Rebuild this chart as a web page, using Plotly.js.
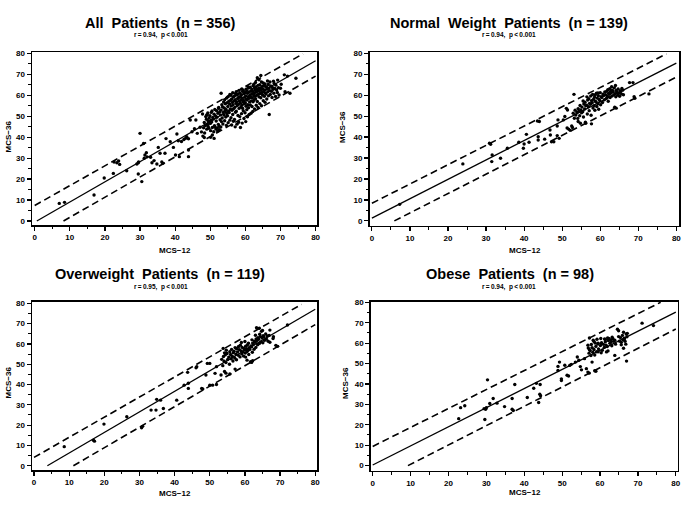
<!DOCTYPE html>
<html>
<head>
<meta charset="utf-8">
<script src="https://cdn.plot.ly/plotly-3.0.1.min.js"></script>
<style>html,body{margin:0;padding:0;background:#fff;}#chart{width:685px;height:529px;}</style>
</head>
<body>
<div id="chart"></div>
<script>
// ---------- data (MCS-12 , MCS-36) ----------
const panelTitles = ["All\u00a0\u00a0Patients\u00a0\u00a0(n\u00a0=\u00a0356)", "Normal\u00a0\u00a0Weight\u00a0\u00a0Patients\u00a0\u00a0(n\u00a0=\u00a0139)", "Overweight\u00a0\u00a0Patients\u00a0\u00a0(n\u00a0=\u00a0119)", "Obese\u00a0\u00a0Patients\u00a0\u00a0(n\u00a0=\u00a098)"];
const panelStats = ["r\u2009=\u20090.94,\u00a0\u00a0p\u2009<\u20090.001", "r\u2009=\u20090.94,\u00a0\u00a0p\u2009<\u20090.001", "r\u2009=\u20090.95,\u00a0\u00a0p\u2009<\u20090.001", "r\u2009=\u20090.94,\u00a0\u00a0p\u2009<\u20090.001"];
const xLabel = "MCS\u221212";
const yLabel = "MCS\u221236";

const allPts = [
[7.0,8.4],[8.5,8.9],[16.9,12.4],[19.8,20.5],[22.4,22.7],[22.6,28.1],[23.4,27.8],[23.9,28.6],[24.2,27.0],[26.2,24.0],
[29.1,27.2],[29.5,27.8],[29.6,28.2],[30.0,41.8],[29.5,22.4],[30.5,18.8],[31.0,37.0],[31.4,31.5],[31.2,29.9],[31.8,32.6],
[32.0,30.6],[33.0,30.4],[33.4,27.8],[34.0,28.8],[34.8,27.2],[35.2,35.1],[35.7,32.3],[36.5,27.5],[36.2,28.2],[37.1,32.3],
[37.4,39.3],[38.6,37.8],[39.5,35.1],[40.1,31.5],[40.5,41.5],[40.9,38.3],[41.2,30.7],[41.8,37.9],[42.5,38.9],[43.0,39.5],
[43.3,40.2],[43.8,39.2],[43.8,33.9],[43.8,30.7],[44.3,48.2],[44.8,42.6],[45.5,44.0],[45.9,48.2],[46.3,41.8],[47.1,44.7],
[47.5,42.5],[47.9,40.5],[48.3,39.8],[49.0,50.6],[49.4,47.8],[50.0,46.6],[50.1,39.9],[50.6,41.0],[51.1,39.4],
[48.1,44.5],[48.3,47.0],[47.8,51.0],[48.6,45.5],[48.7,49.8],[48.4,42.0],
[49.0,43.8],[49.2,46.2],[48.9,48.5],[49.1,50.6],[49.3,51.5],[49.6,44.2],[49.5,47.5],[49.7,49.2],[49.4,45.1],
[50.1,43.1],[50.0,46.6],[50.2,48.1],[49.9,50.2],[50.3,51.8],[50.6,44.6],[50.4,47.2],[50.7,49.4],[50.5,52.5],
[51.0,42.6],[51.2,45.4],[50.9,48.6],[51.1,50.9],[51.3,53.2],[51.6,43.9],[51.4,44.8],[51.7,47.7],[51.5,50.1],[51.8,52.6],
[52.1,42.9],[52.0,44.3],[52.3,46.1],[51.9,49.5],[52.2,51.4],[52.4,54.2],[52.6,43.6],[52.5,45.2],[52.8,48.3],[52.7,52.1],[52.4,53.7],
[53.0,44.8],[53.2,47.4],[52.9,50.6],[53.1,52.9],[53.3,55.5],[53.1,60.9],[53.6,46.3],[53.4,49.1],[53.7,51.8],[53.5,54.4],[53.8,56.7],
[54.1,47.8],[53.9,50.5],[54.2,52.6],[54.0,53.9],[54.3,55.9],[54.1,57.8],[54.6,45.6],[54.4,49.6],[54.7,51.3],[54.5,53.2],[54.8,56.4],[54.6,58.6],
[55.1,46.9],[54.9,50.2],[55.2,52.4],[55.0,54.6],[55.3,57.1],[55.1,59.3],[55.6,48.1],[55.4,51.7],[55.7,53.4],[55.5,55.8],[55.8,57.6],[55.6,60.4],
[56.1,45.8],[55.9,49.3],[56.2,52.8],[56.0,54.9],[56.3,56.5],[56.1,58.2],[55.9,59.9],
[56.6,47.6],[56.4,50.8],[56.7,53.6],[56.5,55.4],[56.8,57.3],[56.6,59.1],[56.4,61.2],
[57.1,44.9],[56.9,48.4],[57.2,51.9],[57.0,54.2],[57.3,56.1],[57.1,57.8],[56.9,59.6],[57.2,60.8],
[57.6,46.2],[57.4,52.4],[57.7,55.1],[57.5,56.9],[57.8,58.4],[57.6,60.1],[57.4,61.7],
[58.1,47.1],[57.9,50.3],[58.2,53.7],[58.0,55.6],[58.3,57.2],[58.1,58.9],[57.9,60.5],[58.2,62.3],
[58.6,44.6],[58.4,49.8],[58.7,54.3],[58.5,56.4],[58.8,57.9],[58.6,59.4],[58.4,61.1],
[59.1,46.7],[58.9,51.2],[59.2,53.8],[59.0,55.2],[59.3,57.0],[59.1,58.6],[58.9,60.2],[59.2,61.8],[59.0,63.0],
[59.6,48.9],[59.4,52.6],[59.7,55.9],[59.5,57.5],[59.8,59.0],[59.6,60.7],[59.4,62.4],
[60.1,47.4],[59.9,51.6],[60.2,54.7],[60.0,56.3],[60.3,58.1],[60.1,59.7],[59.9,61.3],[60.2,62.9],
[60.6,49.7],[60.4,53.1],[60.7,55.5],[60.5,57.7],[60.8,59.3],[60.6,60.9],[60.4,62.2],[60.7,64.1],
[61.1,50.8],[60.9,54.0],[61.2,56.8],[61.0,58.5],[61.3,60.0],[61.1,61.5],[60.9,63.4],
[61.6,51.4],[61.4,55.3],[61.7,57.3],[61.5,59.1],[61.8,60.6],[61.6,62.0],[61.4,63.8],
[62.1,52.2],[61.9,54.6],[62.2,56.9],[62.0,58.7],[62.3,60.3],[62.1,61.8],[61.9,62.7],[62.2,64.5],
[62.6,53.5],[62.4,57.6],[62.7,59.5],[62.5,61.1],[62.8,62.5],[62.6,63.6],[62.4,65.2],
[63.1,55.2],[62.9,58.3],[63.2,59.9],[63.0,61.4],[63.3,62.8],[63.1,64.0],[62.9,66.1],
[63.6,54.1],[63.4,57.0],[63.7,60.4],[63.5,61.9],[63.8,63.2],[63.6,64.7],[63.4,68.3],
[64.1,56.0],[63.9,59.2],[64.2,60.8],[64.0,62.1],[64.3,63.5],[64.1,65.0],[63.9,67.4],
[64.6,55.0],[64.4,58.8],[64.7,61.2],[64.5,62.6],[64.8,64.2],[64.6,66.3],[64.4,69.4],
[65.1,57.4],[64.9,60.1],[65.2,61.7],[65.0,63.0],[65.3,64.6],[65.1,65.8],
[65.6,56.6],[65.4,59.5],[65.7,61.0],[65.5,62.4],[65.8,64.0],[65.6,65.4],
[66.1,58.2],[65.9,60.6],[66.2,62.9],[66.0,63.9],[66.3,66.8],[66.6,59.7],[66.4,61.6],[66.7,63.3],[66.5,65.1],
[66.8,50.8],[67.1,60.3],[66.9,62.2],[67.2,64.4],[67.0,66.3],[67.6,58.9],[67.4,61.9],[67.7,63.7],
[68.1,60.9],[67.9,62.8],[68.2,65.6],[68.0,66.7],[68.6,59.4],[68.4,63.2],[68.7,64.8],
[69.1,61.3],[68.9,62.5],[69.2,67.2],[69.6,60.1],[69.4,63.6],[70.0,63.3],[70.2,65.2],
[71.1,69.7],[71.3,61.7],[72.0,69.1],[72.7,60.9],[74.4,68.1]
];

const normalPts = [
[7.3,7.9],[23.9,27.2],[31.2,36.6],[30.9,37.1],[31.6,31.5],[31.5,28.3],[33.8,29.9],[35.6,34.7],[38.6,37.5],[39.8,34.7],
[40.0,36.7],[40.6,41.3],[41.3,37.5],[43.5,47.7],[44.0,47.4],[43.7,40.2],[43.7,38.6],[45.4,39.0],[46.8,43.4],[46.9,41.0],
[47.2,37.8],[47.8,37.8],[48.7,45.3],[48.9,48.2],[48.7,40.7],[49.2,39.4],[50.3,48.2],[51.1,53.7],[51.4,52.9],[50.7,49.8],
[51.3,44.3],[51.7,43.8],[52.1,43.2],[52.5,45.3],[52.7,44.6],[53.1,60.4],[52.9,51.4],[53.2,49.0],[54.2,47.4],[54.8,46.6],
[56.2,46.6],[57.7,46.3],[63.8,54.2],[64.2,53.8],[67.7,66.0],[68.6,66.0],[69.1,58.5],[68.9,59.3],[72.8,60.6],[58.7,60.2],[59.4,61.0],
[53.6,50.5],[53.4,52.8],[54.1,48.9],[53.9,51.9],[54.2,53.6],[54.6,50.2],[54.4,52.4],[54.7,55.1],
[55.1,51.6],[54.9,53.0],[55.2,54.3],[55.6,49.6],[55.4,52.1],[55.7,55.8],[55.5,57.2],
[56.1,47.1],[55.9,53.4],[56.2,54.9],[56.0,56.6],[56.6,51.0],[56.4,55.2],[56.7,57.7],[56.5,59.2],
[57.1,52.6],[56.9,54.5],[57.2,56.1],[57.0,58.3],[57.6,50.4],[57.4,55.7],[57.7,57.4],[57.5,59.6],
[58.1,53.9],[57.9,56.4],[58.2,58.0],[58.0,60.3],[58.6,52.8],[58.4,55.0],[58.7,57.1],[58.5,59.0],
[59.1,54.6],[58.9,56.8],[59.2,58.6],[59.0,60.9],[59.6,53.3],[59.4,55.9],[59.7,57.9],[59.5,59.7],
[60.1,55.4],[59.9,57.3],[60.2,59.3],[60.0,61.2],[60.6,56.5],[60.4,58.9],[60.7,60.5],
[61.1,57.8],[60.9,59.8],[61.2,61.5],[61.6,58.4],[61.4,60.2],[61.7,61.9],
[62.1,57.1],[61.9,59.4],[62.2,60.8],[62.0,62.6],[62.6,58.9],[62.4,60.4],[62.7,61.8],[62.5,63.1],
[63.1,59.6],[62.9,61.2],[63.2,62.4],[63.0,64.0],[63.6,60.1],[63.4,61.6],[63.7,63.5],
[64.1,59.2],[63.9,60.7],[64.2,62.2],[64.0,64.6],[64.6,60.0],[64.4,61.4],[64.7,63.0],
[65.1,59.5],[64.9,60.9],[65.2,62.1],[65.6,60.5],[65.4,61.7],[65.7,63.2],[66.1,60.2],[65.9,62.4]
];

const overPts = [
[8.6,9.4],[16.9,12.6],[17.2,12.1],[19.9,20.5],[26.4,24.1],[30.6,18.7],[30.9,19.4],[33.3,27.4],[34.7,27.4],[34.9,32.7],
[36.0,32.3],[36.8,28.2],[40.6,32.3],[42.7,39.7],[43.9,40.6],[43.9,38.1],[43.7,46.0],[46.1,48.3],[46.3,48.8],[47.7,38.1],
[48.0,37.8],[48.9,44.7],[49.3,50.4],[50.0,50.4],[50.0,39.7],[50.8,39.7],[51.5,45.5],[51.9,48.8],[51.9,40.0],[53.4,52.4],
[53.2,44.7],[53.7,49.3],[53.8,57.8],[54.2,46.4],[54.6,45.6],[55.7,45.2],[57.2,47.6],[57.6,57.8],[60.2,53.5],[60.6,52.0],
[61.9,50.9],[62.2,51.7],[63.3,68.0],[64.1,67.7],[65.0,66.6],[67.1,66.8],[68.1,63.5],[68.8,59.3],[69.3,58.8],[72.1,69.3],
[54.1,51.5],[53.9,53.8],[54.2,55.6],[54.6,50.8],[54.4,54.6],[54.7,56.9],[55.1,52.3],[54.9,55.3],
[55.6,50.0],[55.4,53.5],[55.7,56.2],[56.1,52.7],[55.9,54.8],[56.2,57.3],[56.6,51.6],[56.4,53.9],[56.7,55.7],
[57.1,53.1],[56.9,56.4],[57.2,58.2],[57.6,52.2],[57.4,55.0],[57.7,57.6],[58.1,54.4],[57.9,56.1],[58.2,58.7],
[58.6,53.6],[58.4,57.2],[58.7,59.4],[59.1,55.1],[58.9,56.6],[59.2,58.3],[59.0,60.7],[59.6,54.0],[59.4,56.0],[59.7,57.8],
[60.1,55.5],[59.9,57.1],[60.2,58.9],[60.0,61.2],[60.6,56.3],[60.4,57.6],[60.7,59.5],
[61.1,54.8],[60.9,56.9],[61.2,58.1],[61.0,60.3],[61.6,51.2],[61.4,57.3],[61.7,59.0],
[62.1,55.9],[61.9,58.6],[62.2,60.4],[62.0,62.0],[62.6,57.4],[62.4,59.7],[62.7,61.3],
[63.1,58.3],[62.9,60.8],[63.2,62.5],[63.0,64.3],[63.6,59.6],[63.4,61.7],[63.7,63.1],
[64.1,60.2],[63.9,62.3],[64.2,64.8],[64.6,61.0],[64.4,63.6],[64.7,66.2],[65.1,60.6],[64.9,62.9],[65.2,64.1],
[65.6,61.8],[65.4,63.5],[66.1,62.4],[65.9,64.9],[66.6,61.3],[66.4,63.9],[67.1,60.8],[66.9,64.2],[68.0,62.7]
];

const obesePts = [
[22.7,23.0],[23.2,28.4],[24.3,29.3],[29.4,27.9],[29.8,27.6],[30.0,28.4],[29.6,22.6],[30.3,42.0],[30.9,30.4],[31.8,32.9],
[32.8,30.6],[34.8,28.9],[36.8,32.9],[36.8,27.6],[37.1,27.0],[37.5,39.7],[40.8,33.4],[42.5,37.9],[43.2,40.3],[43.8,30.9],
[44.1,35.0],[44.3,34.2],[44.2,39.7],[48.9,48.6],[49.3,50.7],[48.9,46.6],[49.8,42.5],[49.8,41.7],[50.7,49.2],[51.3,44.3],
[51.7,43.9],[52.0,49.1],[52.4,49.6],[53.5,50.7],[54.0,53.2],[54.4,51.6],[55.1,46.9],[54.8,48.5],[55.9,52.4],[56.4,47.5],
[56.8,45.8],[57.1,45.3],[56.8,59.0],[57.2,56.8],[57.9,50.7],[58.4,60.8],[58.6,46.5],[58.9,46.2],[59.5,60.0],[60.3,59.6],
[59.5,55.8],[60.3,55.3],[61.4,61.8],[61.7,55.7],[62.3,62.3],[62.8,61.5],[64.6,66.8],[64.9,66.1],[63.9,54.0],[65.6,59.2],
[66.4,62.0],[66.8,59.5],[66.2,57.5],[67.0,51.2],[67.2,64.8],[71.1,69.8],[74.1,68.6],
[57.1,55.1],[56.9,57.6],[57.2,62.5],[57.6,53.9],[57.4,56.4],[57.7,59.3],[58.1,55.5],[57.9,57.8],[58.2,61.4],
[58.6,54.2],[58.4,56.9],[58.7,60.1],[59.1,55.8],[58.9,58.4],[59.2,61.9],[59.6,57.2],[59.4,59.6],
[60.1,58.8],[60.2,62.3],[60.6,56.5],[60.4,60.2],[61.1,57.9],[60.9,59.4],[61.2,62.0],[61.6,59.0],[61.4,60.7],
[62.1,56.2],[61.9,58.3],[62.2,61.3],[62.0,62.6],[62.6,59.9],[62.4,61.7],[63.1,58.7],[62.9,60.5],[63.2,62.9],
[63.6,60.9],[63.4,62.2],[64.1,59.5],[63.9,61.4],[65.1,61.0],[64.9,63.2],[65.6,60.4],[65.4,62.7],
[66.1,61.6],[65.9,63.8],[66.2,65.3],[66.6,60.9],[66.4,62.4],[67.1,63.1],[66.9,64.5]
];

// fitted line and band end points: [x0,x1], [y0,y1]
const allFitX = [0.6, 80],  allFitY = [0, 76.4];
const allUpX  = [0, 76.4],  allUpY  = [7.4, 79.7];
const allLoX  = [8.2, 80],  allLoY  = [0, 69.1];
const norFitX = [0, 80],    norFitY = [1.3, 75.3];
const norUpX  = [0, 77.4],  norUpY  = [8.4, 79.7];
const norLoX  = [5.9, 80],  norLoY  = [0, 68.6];
const ovrFitX = [3.8, 80],  ovrFitY = [0, 77.1];
const ovrUpX  = [0, 76.1],  ovrUpY  = [4.1, 79.5];
const ovrLoX  = [11.2, 80], ovrLoY  = [0, 69.5];
const obeFitX = [0, 80],    obeFitY = [0.3, 75.2];
const obeUpX  = [0, 76],    obeUpY  = [9.4, 80];
const obeLoX  = [9.3, 80],  obeLoY  = [0, 66.9];

const tickVals = [0, 10, 20, 30, 40, 50, 60, 70, 80];

// ---------- build ----------
const W = 685, H = 529;
const FONT = "Liberation Sans, Arial, Helvetica, sans-serif";
const pts = [allPts, normalPts, overPts, obesePts];
const lines = [
  [allFitX, allFitY, allUpX, allUpY, allLoX, allLoY],
  [norFitX, norFitY, norUpX, norUpY, norLoX, norLoY],
  [ovrFitX, ovrFitY, ovrUpX, ovrUpY, ovrLoX, ovrLoY],
  [obeFitX, obeFitY, obeUpX, obeUpY, obeLoX, obeLoY]
];
// frame pixel boxes [left, right, top, bottom]
const boxes = [[32, 317, 52, 225], [369.5, 679, 52, 225.5], [32, 317, 301.7, 470], [370.7, 677.7, 301.7, 470.7]];
const xRanges = [[-0.77, 80.4], [-0.63, 80.7], [-0.57, 80.5], [-0.53, 80.5]];
const yRanges = [[-1.9, 80.6], [-2.2, 80.6], [-2.1, 80.8], [-2.5, 80.3]];
const titlePos = [[160, 22.7], [508.5, 22.7], [160, 274], [510.5, 274]];
const statPos = [[160.6, 35], [509, 35], [160.8, 286.5], [508.8, 286.5]];
const xTitlePos = [[174.5, 250], [525, 250], [175, 493], [525, 492]];
const yTitlePos = [[7.5, 137], [343, 127], [7.5, 383], [345, 383]];

const traces = [];
const layout = {
  width: W, height: H,
  margin: {l: 0, r: 0, t: 0, b: 0},
  paper_bgcolor: "#fff", plot_bgcolor: "#fff",
  showlegend: false,
  font: {family: FONT, color: "#000"},
  annotations: []
};

for (let i = 0; i < 4; i++) {
  const n = i + 1;
  const xa = "x" + (n === 1 ? "" : n), ya = "y" + (n === 1 ? "" : n);
  const L = lines[i];
  traces.push({x: L[0], y: L[1], xaxis: xa, yaxis: ya, mode: "lines", line: {color: "#000", width: 1.3}, hoverinfo: "skip"});
  traces.push({x: L[2], y: L[3], xaxis: xa, yaxis: ya, mode: "lines", line: {color: "#000", width: 1.6, dash: "7px,4px"}, hoverinfo: "skip"});
  traces.push({x: L[4], y: L[5], xaxis: xa, yaxis: ya, mode: "lines", line: {color: "#000", width: 1.6, dash: "7px,4px"}, hoverinfo: "skip"});
  traces.push({x: pts[i].map(p => p[0]), y: pts[i].map(p => p[1]), xaxis: xa, yaxis: ya, mode: "markers",
    marker: {color: "#000", size: 3.4, line: {width: 0}}});

  const b = boxes[i];
  const axCommon = {
    showgrid: false, zeroline: false, showline: true, mirror: true,
    linecolor: "#000", linewidth: 1.5,
    ticks: "outside", ticklen: 4, tickwidth: 1.2, tickcolor: "#000",
    tickvals: tickVals, ticktext: tickVals.map(String),
    tickfont: {family: FONT, size: 8, weight: "bold", color: "#000"},
    minor: {dtick: 5, tick0: 0, ticks: "outside", ticklen: 2.5, tickwidth: 1, tickcolor: "#000", showgrid: false},
    fixedrange: true
  };
  layout["xaxis" + (n === 1 ? "" : n)] = Object.assign({}, axCommon, {
    domain: [b[0] / W, b[1] / W], range: xRanges[i], anchor: ya
  });
  layout["yaxis" + (n === 1 ? "" : n)] = Object.assign({}, axCommon, {
    domain: [1 - b[3] / H, 1 - b[2] / H], range: yRanges[i], anchor: xa
  });

  layout.annotations.push({text: panelTitles[i], xref: "paper", yref: "paper", x: titlePos[i][0] / W, y: 1 - titlePos[i][1] / H,
    xanchor: "center", yanchor: "middle", showarrow: false, font: {family: FONT, size: 14.5, weight: "bold", color: "#000"}});
  layout.annotations.push({text: panelStats[i], xref: "paper", yref: "paper", x: statPos[i][0] / W, y: 1 - statPos[i][1] / H,
    xanchor: "center", yanchor: "middle", showarrow: false, font: {family: FONT, size: 6.5, weight: "bold", color: "#000"}});
  layout.annotations.push({text: xLabel, xref: "paper", yref: "paper", x: xTitlePos[i][0] / W, y: 1 - xTitlePos[i][1] / H,
    xanchor: "center", yanchor: "middle", showarrow: false, font: {family: FONT, size: 8, weight: "bold", color: "#000"}});
  layout.annotations.push({text: yLabel, xref: "paper", yref: "paper", x: yTitlePos[i][0] / W, y: 1 - yTitlePos[i][1] / H,
    xanchor: "center", yanchor: "middle", textangle: -90, showarrow: false, font: {family: FONT, size: 8, weight: "bold", color: "#000"}});
}

Plotly.newPlot("chart", traces, layout, {displayModeBar: false, staticPlot: true});
</script>
</body>
</html>
